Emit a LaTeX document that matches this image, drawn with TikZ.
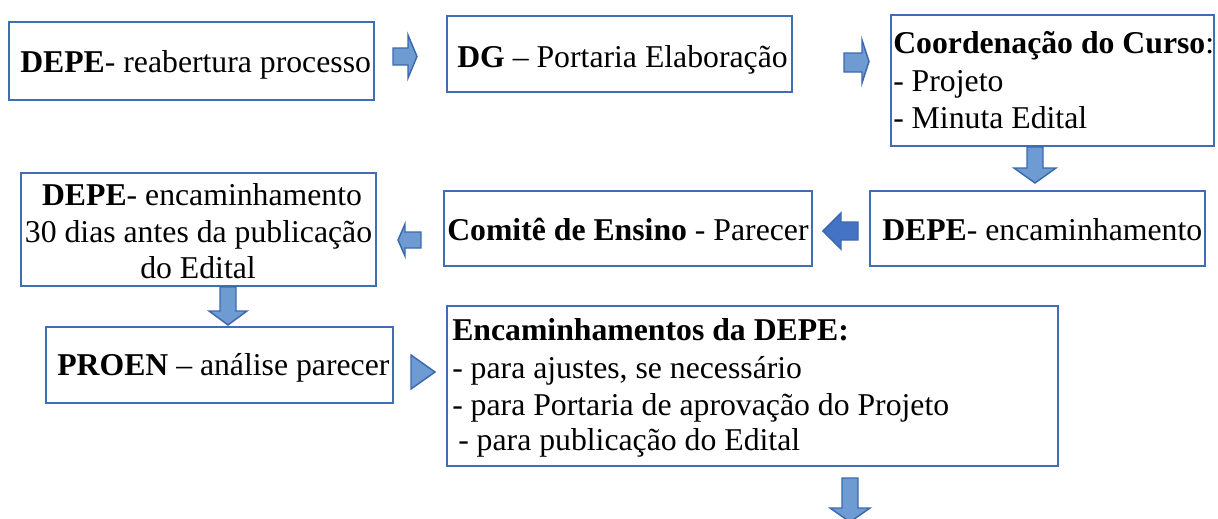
\documentclass[tikz,border=0pt]{standalone}
\usepackage{fontspec}
\setmainfont{Liberation Serif}
\usetikzlibrary{fit}
\definecolor{bord}{HTML}{3F6EB5}
\definecolor{afill}{HTML}{6E9BD2}
\definecolor{adark}{HTML}{4472C4}
\definecolor{aline}{HTML}{3C69AE}
\tikzset{
  box/.style={draw=bord, line width=1.5pt, fill=white, inner sep=0pt},
  txt/.style={anchor=base west, inner sep=0pt, font=\fontsize{23.8}{27.6}\selectfont},
  ctxt/.style={anchor=base, inner sep=0pt, font=\fontsize{23.8}{27.6}\selectfont},
  blockarrow/.style={draw=aline, fill=afill, line width=1.1pt, line join=miter},
  darkarrow/.style={blockarrow, fill=adark},
}
\begin{document}
\begin{tikzpicture}[x=0.75pt,y=-0.75pt]
\useasboundingbox (0,0) rectangle (1218,518);
% boxes
\node[box, fit={(9,22) (374,100)}] (b1) {};
\node[box, fit={(447,16) (792,92)}] (b2) {};
\node[box, fit={(891,15) (1214,146)}] (b3) {};
\node[box, fit={(21,173) (376,286)}] (b4) {};
\node[box, fit={(444,191) (812,266)}] (b5) {};
\node[box, fit={(870,191) (1205,266)}] (b6) {};
\node[box, fit={(46,327) (393,403)}] (b7) {};
\node[box, fit={(447,306) (1058,466)}] (b8) {};
% texts
\node[txt] (t1) at (20,72) {\textbf{DEPE}- reabertura processo};
\node[txt] (t2) at (457,67) {\textbf{DG} – Portaria Elaboração};
\node[txt] (t3a) at (893,53) {\textbf{Coordenação do Curso}:};
\node[txt] (t3b) at (893,91) {- Projeto};
\node[txt] (t3c) at (893,128) {- Minuta Edital};
\node[ctxt] (t4a) at (202,205) {\textbf{DEPE}- encaminhamento};
\node[ctxt] (t4b) at (198.5,242) {30 dias antes da publicação};
\node[ctxt] (t4c) at (198,278) {do Edital};
\node[txt] (t5) at (447,240) {\textbf{Comitê de Ensino} - Parecer};
\node[txt] (t6) at (882,240) {\textbf{DEPE}- encaminhamento};
\node[txt] (t7) at (57,375) {\textbf{PROEN} – análise parecer};
\node[txt] (t8a) at (452,340) {\textbf{Encaminhamentos da DEPE:}};
\node[txt] (t8b) at (452,378) {- para ajustes, se necessário};
\node[txt] (t8c) at (452,415) {- para Portaria de aprovação do Projeto};
\node[txt] (t8d) at (458,450) {- para publicação do Edital};
% block arrows
\draw[blockarrow] (393,48)--(408,48)--(408,35)--(417,56.5)--(408,78)--(408,65)--(393,65)--cycle;
\draw[blockarrow] (844,53)--(862,53)--(862,40)--(869,61.5)--(862,83)--(862,72)--(844,72)--cycle;
\draw[blockarrow] (1027,147)--(1043,147)--(1043,168)--(1056,168)--(1035,183)--(1014,168)--(1027,168)--cycle;
\draw[darkarrow] (858,222)--(841,222)--(841,213)--(823,231)--(841,249)--(841,240)--(858,240)--cycle;
\draw[blockarrow] (421,232)--(405,232)--(405,224)--(398,240)--(405,256)--(405,248)--(421,248)--cycle;
\draw[blockarrow] (220,287)--(236,287)--(236,311)--(247,311)--(228,325)--(209,311)--(220,311)--cycle;
\draw[blockarrow] (411,355)--(435,372)--(411,389)--cycle;
\draw[blockarrow] (842,478)--(858,478)--(858,508)--(870,508)--(850,522)--(830,508)--(842,508)--cycle;
\end{tikzpicture}
\end{document}
